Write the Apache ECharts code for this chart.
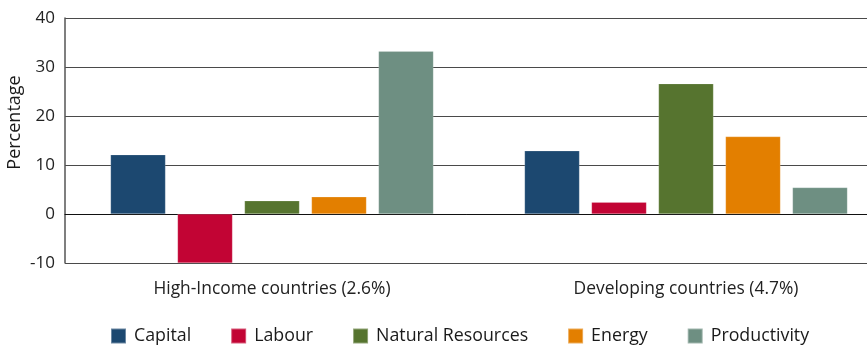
<!DOCTYPE html>
<html>
<head>
<meta charset="utf-8">
<script src="https://cdn.jsdelivr.net/npm/echarts@6/dist/echarts.min.js"></script>
<style>html,body{margin:0;padding:0;background:#fff}#c{width:867px;height:350px}</style>
</head>
<body>
<div id="c"></div>
<script>
var categories = ['High-Income countries (2.6%)', 'Developing countries (4.7%)'];
var seriesNames = ['Capital', 'Labour', 'Natural Resources', 'Energy', 'Productivity'];
var capital = [12.1, 12.9];
var labour = [-10, 2.4];
var naturalResources = [2.7, 26.6];
var energy = [3.5, 15.8];
var productivity = [33.2, 5.4];
var yTicks = [-10, 0, 10, 20, 30, 40];

var colors = ['#1c4870', '#c20434', '#56742f', '#e37f00', '#6e8f82'];
var values = [capital, labour, naturalResources, energy, productivity];
var font = '"Open Sans", "Noto Sans", sans-serif';

var chart = echarts.init(document.getElementById('c'), null, {renderer: 'canvas'});
chart.setOption({
  animation: false,
  textStyle: {fontFamily: font},
  grid: {left: 65, width: 828, top: 18, bottom: 87, containLabel: false, outerBoundsMode: 'none'},
  legend: {
    left: 110, top: 327, padding: 0,
    itemWidth: 15, itemHeight: 15, itemGap: 39,
    icon: 'rect',
    textStyle: {fontFamily: font, fontSize: 17.8, color: '#1a1a1a', padding: [0, 0, 0, 3]},
    data: seriesNames
  },
  xAxis: {
    type: 'category',
    data: categories,
    axisTick: {show: false},
    axisLine: {show: true, onZero: true, lineStyle: {color: '#111', width: 1}},
    axisLabel: {fontFamily: font, fontSize: 17.4, color: '#222', margin: 18},
    splitLine: {show: false}
  },
  yAxis: {
    type: 'value',
    min: yTicks[0], max: yTicks[yTicks.length - 1], interval: 10,
    name: 'Percentage',
    nameLocation: 'middle',
    nameGap: 41,
    nameMoveOverlap: false,
    nameTextStyle: {fontFamily: font, fontSize: 18, color: '#1a1a1a', padding: [0, 0, 0, 36]},
    axisLine: {show: true, lineStyle: {color: '#555', width: 1.5}},
    axisTick: {show: false},
    axisLabel: {fontFamily: font, fontSize: 17, color: '#222', margin: 10},
    splitLine: {show: true, lineStyle: {color: '#4a4a4a', width: 1.2}}
  },
  series: seriesNames.map(function(n, i){
    return {
      name: n, type: 'bar', data: values[i],
      barWidth: 55, barGap: '21.8%',
      itemStyle: {color: colors[i], borderColor: 'rgba(255,255,255,0.35)', borderWidth: 0.5}
    };
  })
});
</script>
</body>
</html>
